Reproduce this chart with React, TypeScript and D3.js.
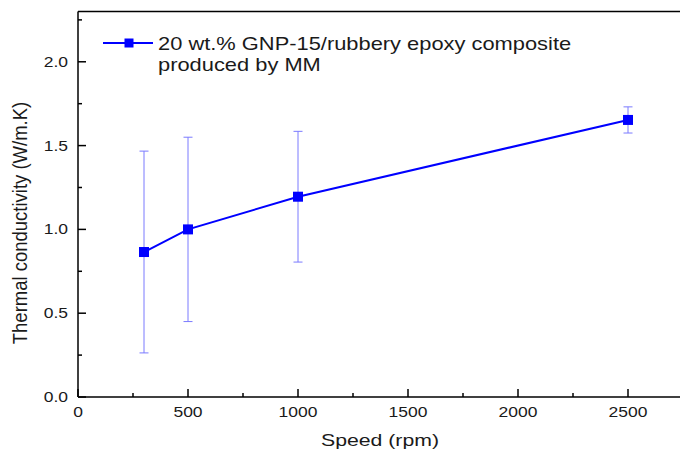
import React from "react";
import * as d3 from "d3";

const speeds = [300, 500, 1000, 2500];
const conductivity = [0.865, 1.0, 1.195, 1.653];
const errors = [0.602, 0.55, 0.39, 0.078];
const xTicks = [0, 500, 1000, 1500, 2000, 2500];
const xMinor = [250, 750, 1250, 1750, 2250];
const yTicks = [0, 0.5, 1.0, 1.5, 2.0];
const yMinor = [0.25, 0.75, 1.25, 1.75, 2.25];
const legendLines = ["20 wt.% GNP-15/rubbery epoxy composite", "produced by MM"];
const xTitle = "Speed (rpm)";
const yTitle = "Thermal conductivity (W/m.K)";

const W = 680;
const H = 451;
const font = "Arial, 'Liberation Sans', sans-serif";
const SX = 1.25;

function SText(props: {
  x: number;
  y: number;
  size: number;
  anchor?: string;
  children: React.ReactNode;
}) {
  return (
    <text
      transform={`translate(${props.x},${props.y}) scale(${SX},1)`}
      textAnchor={props.anchor || "start"}
      fontFamily={font}
      fontSize={props.size}
      fill="#1a1a1a"
    >
      {props.children}
    </text>
  );
}

export default function App() {
  const x = d3.scaleLinear().domain([0, 2750]).range([78, 683]);
  const y = d3.scaleLinear().domain([0, 2.3]).range([397, 11.5]);
  const pts = speeds.map((s, i) => [s, conductivity[i]] as [number, number]);
  const line = d3
    .line<[number, number]>()
    .x((d) => x(d[0]))
    .y((d) => y(d[1]));
  const blue = "#0000ff";
  const errColor = "#7a7aff";
  return (
    <svg
      width={W}
      height={H}
      style={{ position: "absolute", left: 0, top: 0, background: "#fff" }}
    >
      <rect x={0} y={0} width={W} height={H} fill="#fff" />
      {speeds.map((s, i) => {
        const cx = x(s);
        const top = y(conductivity[i] + errors[i]);
        const bot = y(conductivity[i] - errors[i]);
        return (
          <g key={"e" + i} stroke={errColor} strokeWidth={1}>
            <line x1={cx} x2={cx} y1={top} y2={bot} />
            <line x1={cx - 4.5} x2={cx + 4.5} y1={top} y2={top} />
            <line x1={cx - 4.5} x2={cx + 4.5} y1={bot} y2={bot} />
          </g>
        );
      })}
      <path d={line(pts) || ""} fill="none" stroke={blue} strokeWidth={2} />
      {pts.map((p, i) => (
        <rect
          key={"m" + i}
          x={x(p[0]) - 5}
          y={y(p[1]) - 5}
          width={10}
          height={10}
          fill={blue}
        />
      ))}
      <g stroke="#000" strokeWidth={1.5} fill="none">
        <line x1={x(0)} x2={x(0)} y1={y(2.3)} y2={y(0)} />
        <line x1={x(0)} x2={x(2750)} y1={y(0)} y2={y(0)} />
        <line x1={x(0)} x2={x(2750)} y1={y(2.3)} y2={y(2.3)} />
        <line x1={x(2750)} x2={x(2750)} y1={y(2.3)} y2={y(0)} />
        {xTicks.map((t) => (
          <line key={"xt" + t} x1={x(t)} x2={x(t)} y1={y(0)} y2={y(0) - 8} />
        ))}
        {xMinor.map((t) => (
          <line key={"xm" + t} x1={x(t)} x2={x(t)} y1={y(0)} y2={y(0) - 4} />
        ))}
        {yTicks.map((t) => (
          <line key={"yt" + t} x1={x(0)} x2={x(0) + 8} y1={y(t)} y2={y(t)} />
        ))}
        {yMinor.map((t) => (
          <line key={"ym" + t} x1={x(0)} x2={x(0) + 4} y1={y(t)} y2={y(t)} />
        ))}
      </g>
      {xTicks.map((t) => (
        <SText key={"xl" + t} x={x(t)} y={417} size={14} anchor="middle">
          {String(t)}
        </SText>
      ))}
      {yTicks.map((t) => (
        <SText key={"yl" + t} x={68} y={y(t) + 5} size={14} anchor="end">
          {d3.format(".1f")(t)}
        </SText>
      ))}
      <SText x={380} y={446} size={17} anchor="middle">
        {xTitle}
      </SText>
      <text
        transform={`translate(27,223) rotate(-90) scale(1,1.1)`}
        textAnchor="middle"
        fontFamily={font}
        fontSize={18.5}
        fill="#1a1a1a"
      >
        {yTitle}
      </text>
      <line x1={103} x2={153} y1={43} y2={43} stroke={blue} strokeWidth={2} />
      <rect x={124.5} y={38.5} width={9} height={9} fill={blue} />
      <SText x={158} y={49.5} size={17.5}>
        {legendLines[0]}
      </SText>
      <SText x={158} y={71} size={17.5}>
        {legendLines[1]}
      </SText>
    </svg>
  );
}
